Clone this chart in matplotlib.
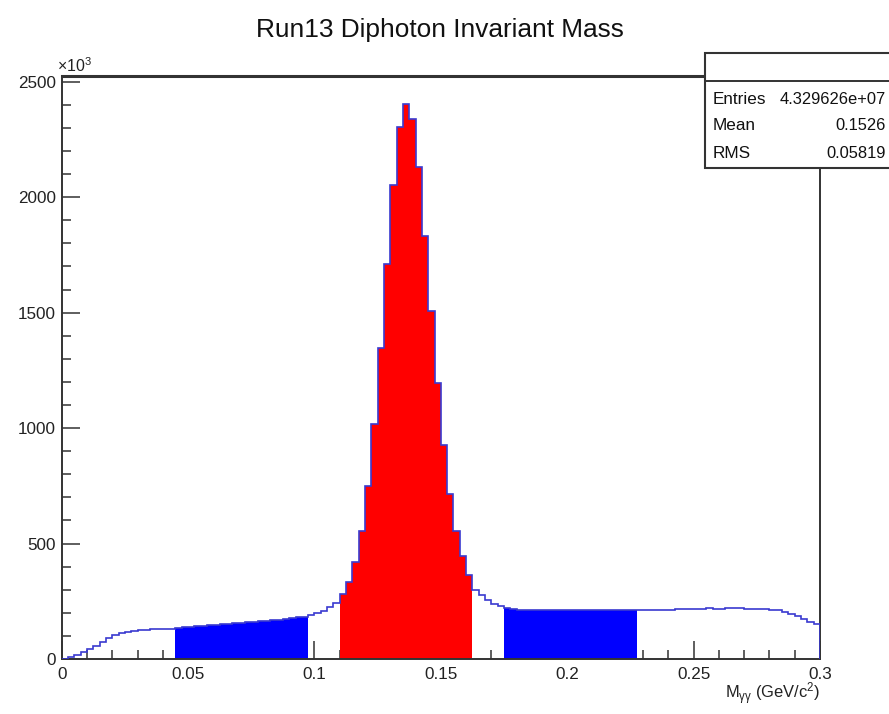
import numpy as np
import matplotlib
matplotlib.use("Agg")
import matplotlib.pyplot as plt
from matplotlib import font_manager
from matplotlib.patches import Rectangle
from matplotlib.lines import Line2D
from matplotlib.ticker import MultipleLocator

# ---------------- data (counts in units of 10^3 per bin) ----------------
x_min, x_max, n_bins = 0.0, 0.3, 120
counts = [
    2, 8, 18, 30, 42, 58, 74, 89, 102, 111,
    118, 122, 125, 127, 129, 130, 131, 132,
    136, 138, 140, 142, 144, 146, 148, 150, 152, 154,
    157, 159, 161, 163, 166, 168, 171, 174, 177, 180, 184,
    190, 198, 210, 226, 244,
    281, 333, 421, 556, 749, 1016, 1346, 1712, 2051, 2305,
    2402, 2338, 2130, 1830, 1508, 1194, 929, 715, 556, 445, 365,
    300, 278, 256, 240, 229,
    219, 216, 214, 213, 213, 212, 212, 212, 212, 212, 212,
    212, 212, 212, 213, 213, 213, 213, 213, 213, 213,
    213, 213, 213, 214, 214, 214, 215, 215, 216, 217,
    218, 219, 218, 218, 219, 219, 219, 218, 218, 217,
    216, 214, 211, 205, 197, 186, 172, 160, 150,
]
red_range = (0.11, 0.1625)
blue_ranges = [(0.045, 0.0975), (0.175, 0.2275)]
stats_labels = ["Entries", "Mean", "RMS"]
stats_values = ["4.329626e+07", "0.1526", "0.05819"]
title = "Run13 Diphoton Invariant Mass"
y_ticks = [0, 500, 1000, 1500, 2000, 2500]
x_ticks = [0, 0.05, 0.1, 0.15, 0.2, 0.25, 0.3]
x_tick_labels = ["0", "0.05", "0.1", "0.15", "0.2", "0.25", "0.3"]

# ---------------- fonts ----------------
names = {f.name for f in font_manager.fontManager.ttflist}
if "Liberation Sans Narrow" in names:
    FONT = "Liberation Sans Narrow"
    k = 1.0
else:
    FONT = "Liberation Sans"
    k = 0.88
plt.rcParams["font.family"] = [FONT, "DejaVu Sans"]
plt.rcParams["mathtext.fontset"] = "custom"
plt.rcParams["mathtext.rm"] = FONT
plt.rcParams["mathtext.it"] = FONT
plt.rcParams["mathtext.default"] = "regular"

W, H = 889, 714
fig = plt.figure(figsize=(W / 100, H / 100), dpi=100)
fig.patch.set_facecolor("white")

left_px, right_px, top_px, bot_px = 61.7, 820, 76, 659
ax = fig.add_axes([left_px / W, 1 - bot_px / H,
                   (right_px - left_px) / W, (bot_px - top_px) / H])

edges = np.linspace(x_min, x_max, n_bins + 1)
counts = np.array(counts, dtype=float)

def fill_range(lo, hi, color):
    i0 = int(round((lo - x_min) / (x_max - x_min) * n_bins))
    i1 = int(round((hi - x_min) / (x_max - x_min) * n_bins))
    ax.stairs(counts[i0:i1], edges[i0:i1 + 1], fill=True, color=color,
              lw=0, zorder=2)

for lo, hi in blue_ranges:
    fill_range(lo, hi, "#0000ff")
fill_range(red_range[0], red_range[1], "#ff0000")

ax.stairs(counts, edges, color="#3a3ad0", lw=1.2, zorder=3)

ax.set_xlim(x_min, x_max)
ax.set_ylim(0, 2525)

ax.set_xticks(x_ticks)
ax.set_xticklabels(x_tick_labels)
ax.set_yticks(y_ticks)
ax.xaxis.set_minor_locator(MultipleLocator(0.01))
ax.yaxis.set_minor_locator(MultipleLocator(100))
ax.tick_params(axis="both", which="major", direction="in", length=13,
               width=1.1, color="#333333", labelsize=14 * k,
               labelcolor="#222222")
ax.tick_params(axis="both", which="minor", direction="in", length=6.5,
               width=1.1, color="#333333")
ax.tick_params(axis="x", which="major", pad=6)
ax.tick_params(axis="y", which="major", pad=4)
ax.tick_params(top=False, right=False, which="both")
for name, s in ax.spines.items():
    s.set_color("#333333")
    s.set_linewidth(1.4)
ax.spines["top"].set_linewidth(2.2)

# exponent label
fig.text(57 / W, 1 - 66 / H, r"$\times$10$^{3}$", fontsize=13 * k,
         ha="left", va="center", color="#222222")

# x axis label
fig.text(right_px / W, 1 - 694 / H, r"M$_{\gamma\gamma}$ (GeV/c$^{2}$)",
         fontsize=13.5 * k, ha="right", va="center", color="#222222")

# title
fig.text(440 / W, 1 - 30 / H, title, fontsize=21.5 * k, ha="center",
         va="center", color="#111111")

# stats box
bx0, by0, by1, bsep = 705, 53, 168, 81
fig.patches.append(Rectangle((bx0 / W, 1 - by1 / H), (W + 20 - bx0) / W,
                             (by1 - by0) / H, transform=fig.transFigure,
                             facecolor="white", edgecolor="#333333",
                             lw=1.5, zorder=10))
fig.lines.append(Line2D([bx0 / W, 1.02], [1 - bsep / H, 1 - bsep / H],
                        transform=fig.transFigure, color="#333333",
                        lw=1.4, zorder=11))
for i, (lab, val) in enumerate(zip(stats_labels, stats_values)):
    yy = 1 - (99 + 27 * i) / H
    fig.text(713 / W, yy, lab, fontsize=14 * k, ha="left", va="center",
             color="#111111", zorder=12)
    fig.text(886 / W, yy, val, fontsize=13.5 * k, ha="right", va="center",
             color="#111111", zorder=12)

fig.savefig("out.png", dpi=100)
